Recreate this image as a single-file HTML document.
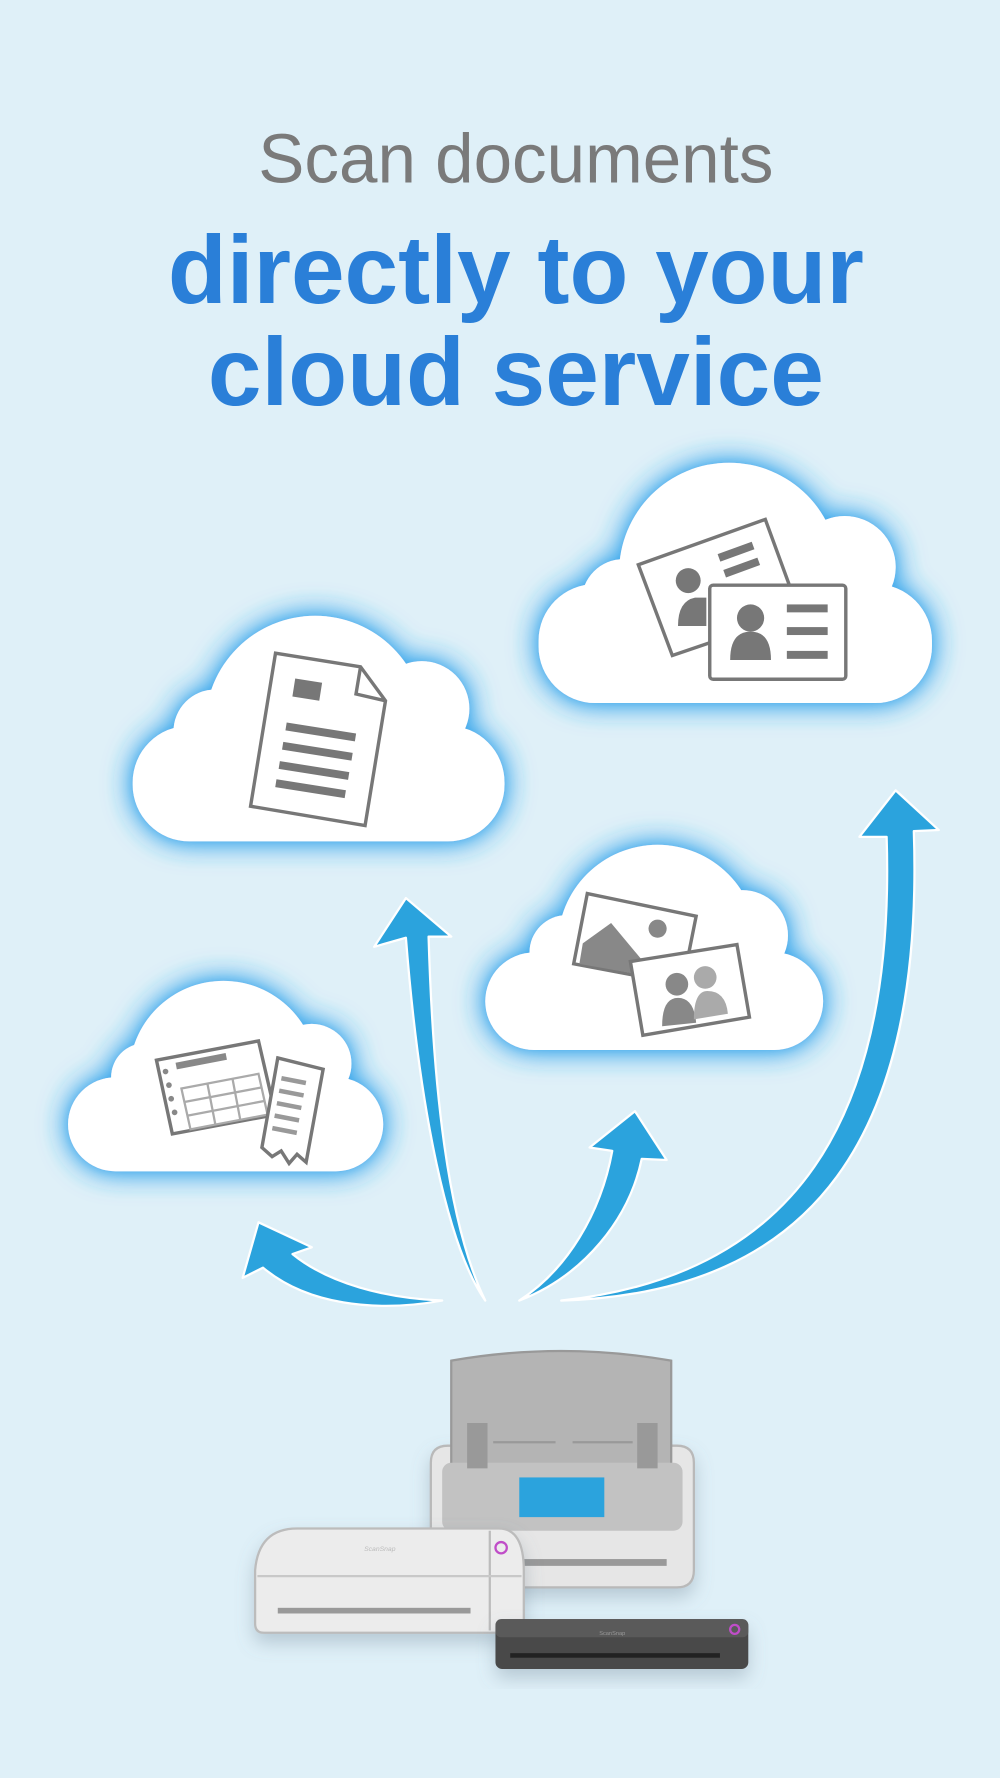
<!DOCTYPE html>
<html><head><meta charset="utf-8"><style>
html,body{margin:0;padding:0;background:#dff0f8;}
svg{display:block}
</style></head><body>
<svg width="1000" height="1778" viewBox="0 0 882 1568" xmlns="http://www.w3.org/2000/svg">
<defs>
<filter id="glow" x="-25%" y="-25%" width="150%" height="150%">
<feDropShadow dx="0" dy="0" stdDeviation="12" flood-color="#2ea3ea" flood-opacity="1"/>
<feDropShadow dx="0" dy="0" stdDeviation="4" flood-color="#5bb8f0" flood-opacity="0.8"/>
</filter>
<filter id="sh" x="-20%" y="-20%" width="140%" height="160%">
<feDropShadow dx="0" dy="8" stdDeviation="8" flood-color="#6a8090" flood-opacity="0.35"/>
</filter>
</defs>
<rect width="882" height="1568" fill="#dff0f8"/>
<text x="455" y="161" text-anchor="middle" font-family="Liberation Sans, sans-serif" font-size="61" fill="#7a7a7a">Scan documents</text>
<text x="455" y="267" text-anchor="middle" font-family="Liberation Sans, sans-serif" font-weight="bold" font-size="85" fill="#2a7fd8">directly to your</text>
<text x="455" y="357" text-anchor="middle" font-family="Liberation Sans, sans-serif" font-weight="bold" font-size="85" fill="#2a7fd8">cloud service</text>

<g fill="#fff" filter="url(#glow)">
 <g>
  <rect x="475" y="515" width="347" height="105" rx="50"/>
  <circle cx="643" cy="505" r="97"/>
  <circle cx="550" cy="530" r="37"/>
  <circle cx="745" cy="500" r="45"/>
 </g>
 <g>
  <rect x="117" y="640" width="328" height="102" rx="50"/>
  <circle cx="278" cy="640" r="97"/>
  <circle cx="190" cy="645" r="37"/>
  <circle cx="372" cy="625" r="42"/>
 </g>
 <g>
  <rect x="428" y="840" width="298" height="86" rx="43"/>
  <circle cx="580" cy="833" r="88"/>
  <circle cx="500" cy="840" r="33"/>
  <circle cx="655" cy="825" r="40"/>
 </g>
 <g>
  <rect x="60" y="950" width="278" height="83" rx="42"/>
  <circle cx="197" cy="948" r="83"/>
  <circle cx="128" cy="950" r="30"/>
  <circle cx="275" cy="938" r="35"/>
 </g>
</g>

<g stroke="#777" stroke-width="3" fill="#fff">
 <polygon points="563,498 675,458 705,540 593,578"/>
 <rect x="626" y="516" width="120" height="83" rx="3"/>
</g>
<g fill="#777">
 <circle cx="607" cy="512" r="11"/><path d="M598,552 q0,-22 15,-25 l10,0 l0,25z"/>
 <rect x="633" y="483" width="32" height="7" transform="rotate(-20 649 486)"/>
 <rect x="638" y="497" width="32" height="7" transform="rotate(-20 654 500)"/>
 <circle cx="662" cy="545" r="12"/><path d="M644,582 q0,-25 18,-25 q18,0 18,25z"/>
 <rect x="694" y="533" width="36" height="7"/><rect x="694" y="553" width="36" height="7"/><rect x="694" y="574" width="36" height="7"/>
</g>

<g stroke="#777" stroke-width="3" fill="#fff">
 <path d="M243,576 L318,588 L340,618 L322,728 L221,711z"/>
 <path d="M318,588 L314,612 L340,618" fill="none"/>
</g>
<g fill="#777">
 <rect x="259" y="600" width="24" height="16" transform="rotate(9 270 608)"/>
 <rect x="252" y="642" width="62" height="7" transform="rotate(9 283 645)"/>
 <rect x="249" y="659" width="62" height="7" transform="rotate(9 280 662)"/>
 <rect x="246" y="676" width="62" height="7" transform="rotate(9 277 679)"/>
 <rect x="243" y="692" width="62" height="7" transform="rotate(9 274 695)"/>
</g>

<g stroke="#777" stroke-width="3" fill="#fff">
 <polygon points="518,788 614,808 602,868 506,850"/>
</g>
<path d="M514,832 l25,-18 l40,48 l-68,-12z" fill="#888"/>
<circle cx="580" cy="819" r="8" fill="#888"/>
<g stroke="#777" stroke-width="3" fill="#fff">
 <polygon points="556,848 650,833 661,897 567,913"/>
</g>
<g fill="#888"><circle cx="597" cy="868" r="10"/><path d="M584,905 q0,-25 14,-25 q14,0 16,22z"/></g>
<g fill="#aaa"><circle cx="622" cy="862" r="10"/><path d="M612,899 q0,-25 12,-25 q16,0 18,20z"/></g>

<g stroke="#777" stroke-width="3" fill="#fff">
 <polygon points="138,935 228,918 243,983 152,1000"/>
</g>
<g fill="#888"><rect x="155" y="933" width="45" height="6" transform="rotate(-11 177 936)"/>
<circle cx="146" cy="945" r="2.5"/><circle cx="149" cy="957" r="2.5"/><circle cx="151" cy="969" r="2.5"/><circle cx="154" cy="981" r="2.5"/></g>
<g stroke="#aaa" stroke-width="2" fill="none">
 <polygon points="160,960 228,947 236,983 168,996"/>
 <line x1="162" y1="972" x2="231" y2="959"/><line x1="165" y1="984" x2="233" y2="971"/>
 <line x1="183" y1="956" x2="190" y2="992"/><line x1="205" y1="951" x2="212" y2="988"/>
</g>
<g stroke="#777" stroke-width="3" fill="#fff">
 <path d="M245,933 L285,943 L270,1025 L262,1018 L255,1026 L248,1015 L240,1020 L231,1012z"/>
</g>
<g fill="#999"><rect x="248" y="951" width="22" height="4" transform="rotate(11 259 953)"/>
<rect x="246" y="962" width="22" height="4" transform="rotate(11 257 964)"/>
<rect x="244" y="973" width="22" height="4" transform="rotate(11 255 975)"/>
<rect x="242" y="984" width="22" height="4" transform="rotate(11 253 986)"/>
<rect x="240" y="995" width="22" height="4" transform="rotate(11 251 997)"/></g>

<g fill="#2ba3dd" stroke="#fff" stroke-width="2" stroke-linejoin="round">
 <path d="M390,1147 C330,1158 270,1150 232,1118 L214,1127 L228,1078 L275,1100 L258,1106 C290,1132 340,1145 390,1147z"/>
 <path d="M428,1147 C395,1100 370,980 358,827 L330,835 L358,792 L398,826 L378,826 C382,960 395,1080 428,1147z"/>
 <path d="M458,1147 C500,1120 530,1070 540,1015 L520,1012 L560,980 L588,1023 L566,1022 C555,1075 515,1125 458,1147z"/>
 <path d="M495,1147 C700,1125 790,990 782,738 L758,738 L790,697 L828,732 L806,733 C815,1000 720,1140 495,1147z"/>
</g>

<g filter="url(#sh)">
 <path d="M380,1290 Q380,1275 395,1275 L597,1275 Q612,1275 612,1290 L612,1385 Q612,1400 597,1400 L395,1400 Q380,1400 380,1385z" fill="#e6e6e6" stroke="#b9b9b9" stroke-width="2"/>
</g>
<path d="M398,1200 Q495,1183 592,1200 L592,1300 L398,1300z" fill="#b4b4b4" stroke="#999" stroke-width="2"/>
<rect x="390" y="1290" width="212" height="60" rx="8" fill="#c2c2c2"/>
<rect x="412" y="1255" width="18" height="40" fill="#999"/><rect x="562" y="1255" width="18" height="40" fill="#999"/>
<line x1="435" y1="1272" x2="490" y2="1272" stroke="#999" stroke-width="2"/><line x1="505" y1="1272" x2="558" y2="1272" stroke="#999" stroke-width="2"/>
<rect x="458" y="1303" width="75" height="35" fill="#2ba3dd"/>
<rect x="400" y="1375" width="188" height="6" fill="#999"/>
<g filter="url(#sh)">
 <path d="M225,1385 Q228,1348 262,1348 L440,1348 Q462,1348 462,1385 L462,1432 Q462,1440 454,1440 L233,1440 Q225,1440 225,1432z" fill="#ececec" stroke="#bcbcbc" stroke-width="2"/>
</g>
<line x1="432" y1="1350" x2="432" y2="1438" stroke="#bcbcbc" stroke-width="2"/>
<line x1="227" y1="1390" x2="460" y2="1390" stroke="#c8c8c8" stroke-width="2"/>
<rect x="245" y="1418" width="170" height="5" fill="#999"/>
<circle cx="442" cy="1365" r="5" fill="none" stroke="#c04dc8" stroke-width="2"/>
<text x="335" y="1368" text-anchor="middle" font-family="Liberation Sans, sans-serif" font-size="6" font-style="italic" fill="#bbb">ScanSnap</text>
<g filter="url(#sh)">
 <rect x="437" y="1428" width="223" height="44" rx="6" fill="#4a4a4a"/>
</g>
<rect x="437" y="1428" width="223" height="16" rx="5" fill="#5a5a5a"/>
<rect x="450" y="1458" width="185" height="4" fill="#222"/>
<circle cx="648" cy="1437" r="4" fill="none" stroke="#c04dc8" stroke-width="2"/>
<text x="540" y="1442" text-anchor="middle" font-family="Liberation Sans, sans-serif" font-size="5" fill="#999">ScanSnap</text>
</svg>
</body></html>
